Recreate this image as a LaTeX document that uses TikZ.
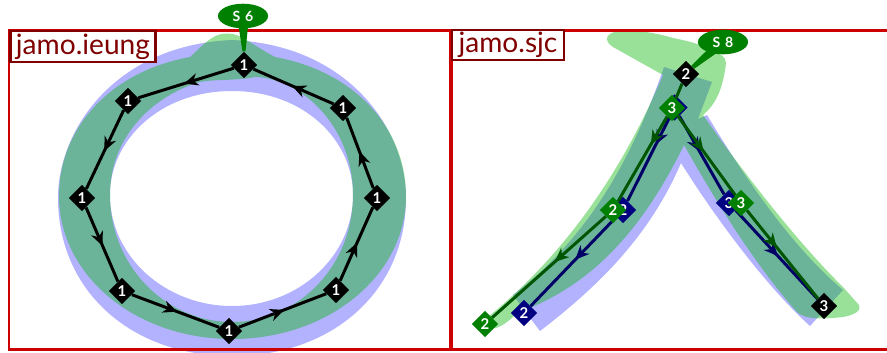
\documentclass[tikz,border=0pt]{standalone}
\usepackage{fontspec}
\setmainfont{Lato}
\usetikzlibrary{shapes.geometric,arrows.meta,decorations.markings,calc}
\tikzset{
  jamonode/.style={diamond,fill=#1,text=white,inner sep=0pt,minimum size=15pt,font=\fontsize{8.5}{9}\selectfont\bfseries},
  strokeno/.style={ellipse,fill=color4,text=white,inner sep=0pt,minimum width=28.5pt,minimum height=14pt,font=\fontsize{8}{9}\selectfont\bfseries},
  jamolabel/.style={draw=color5,line width=1.3pt,fill=white,text=color5,inner sep=0pt,font=\fontsize{16}{17}\selectfont},
  midline/.style 2 args={draw=#1,line width=1.7pt,postaction={decorate,decoration={markings,mark=at position #2 with {\arrow{Stealth[length=8pt,width=7pt,inset=2.5pt]}}}}},
  blueink/.style={fill=blue,fill opacity=0.3,even odd rule},
  greenink/.style={fill=color6,fill opacity=0.4,even odd rule},
}
\begin{document}
\begin{tikzpicture}[x=0.2mm,y=-0.2mm]
\definecolor{color3}{HTML}{CC0000}
\definecolor{color4}{HTML}{008000}
\definecolor{color5}{HTML}{800000}
\definecolor{color6}{HTML}{00B400}
\definecolor{color7}{HTML}{000080}
\definecolor{color8}{HTML}{005500}
\definecolor{color9}{HTML}{000066}
\clip (0,0) rectangle (887,352);
% ink of the ring
\fill[blueink] (58,198) .. controls (58,130) and (115,45) .. (232,40) .. controls (349,45) and (406,130) .. (406,198) .. controls (406,290) and (334,356) .. (232,356) .. controls (130,356) and (58,290) .. (58,198) -- cycle
  (110,195) .. controls (110,140) and (160,91) .. (232,91) .. controls (304,91) and (353,140) .. (353,195) .. controls (353,256) and (299,306) .. (232,306) .. controls (165,306) and (110,256) .. (110,195) -- cycle;
\fill[greenink] (190,57) .. controls (108,72) and (59,130) .. (59,196) .. controls (59,275) and (135,339) .. (232,339) .. controls (329,339) and (406,275) .. (406,196) .. controls (406,130) and (357,72) .. (275,57) .. controls (262,50) and (250,42) .. (243,38) .. controls (235,33) and (222,31) .. (212,38) .. controls (205,42) and (198,50) .. (190,57) -- cycle
  (110,195) .. controls (110,135) and (155,95) .. (200,82) .. controls (215,79) and (235,81) .. (255,77) .. controls (300,78) and (353,125) .. (353,195) .. controls (353,265) and (299,322) .. (232,322) .. controls (165,322) and (110,265) .. (110,195) -- cycle;
% ink of the second glyph
\fill[blueink] (664,67) -- (712,82) -- (698,119) -- (707,115) .. controls (745,178) and (790,245) .. (843,290) -- (810,326) .. controls (770,290) and (720,225) .. (681,163) .. controls (650,235) and (600,285) .. (540,331) -- (513,295) .. controls (585,240) and (630,165) .. (664,67) -- cycle;
\fill[greenink] (663,75) .. controls (625,165) and (570,250) .. (488,317) .. controls (484,322) and (488,330) .. (496,328) .. controls (505,325) and (512,318) .. (517,313) .. controls (580,290) and (635,245) .. (684,145) .. controls (715,200) and (755,265) .. (797,312) .. controls (805,320) and (825,319) .. (843,317) .. controls (855,315) and (862,310) .. (859,305) -- (843,287) .. controls (800,245) and (745,175) .. (703,115) .. controls (715,105) and (723,90) .. (726,63) .. controls (727,52) and (695,42) .. (673,38) .. controls (650,31) and (630,30) .. (620,31) .. controls (607,32) and (602,40) .. (613,47) -- cycle;
% frames
\draw[color3,line width=1.7pt] (9,30) rectangle (450,349);
\draw[color3,line width=1.7pt] (451.5,30) rectangle (900,349);
\node[jamolabel,minimum width=82.5pt,minimum height=17.5pt] (ieunglabel) at (83,46.5) {jamo.ieung};
\node[jamolabel,minimum width=63.5pt,minimum height=17pt] (sjclabel) at (508,45) {jamo.sjc};
% ring
\foreach \nm/\xx/\yy in {a/244/65,b/128/101,c/82/198,d/122/291,e/229/331,f/336/290,g/377/198,h/343/108}
  \node[jamonode=black] (\nm) at (\xx,\yy) {1};
\foreach \from/\to in {a/b,b/c,c/d,d/e,e/f,f/g,g/h,h/a}
  \draw[midline={black}{0.52}] (\from) -- (\to);
\coordinate (sixpos) at (243,16);
\fill[color4] ($(sixpos)+(-6,0)$) -- ($(sixpos)+(6,0)$) -- ($(a.north)+(1.5,0)$) -- ($(a.north)+(-1.5,0)$) -- cycle;
\node[strokeno] (sixlabel) at (sixpos) {S\,\,6};
% second glyph
\node[jamonode=black] (top) at (686,74) {2};
\node[jamonode=black] (tail) at (824,306) {3};
\node[jamonode=color7] (lb) at (623,210) {2};
\node[jamonode=color7] (lc) at (524,313) {2};
\node[jamonode=color7] (ra) at (674.5,107.5) {3};
\node[jamonode=color7] (rb) at (729,203) {3};
\draw[midline={color9}{0.33}] (ra) -- (lb);
\draw[midline={color9}{0.48}] (lb) -- (lc);
\draw[midline={color9}{0.45}] (ra) -- (rb);
\draw[midline={color9}{0.52}] (rb) -- (tail);
\node[jamonode=color4] (gm) at (672,108) {3};
\node[jamonode=color4] (gl) at (613,210) {2};
\node[jamonode=color4] (gc) at (485,324) {2};
\node[jamonode=color4] (gr) at (741,203) {3};
\draw[color8,line width=1.7pt] (top) -- (gm);
\draw[midline={color8}{0.33}] (gm) -- (gl);
\draw[midline={color8}{0.45}] (gl) -- (gc);
\draw[midline={color8}{0.45}] (gm) -- (gr);
\draw[midline={color8}{0.42}] (gr) -- (tail);
\coordinate (eightpos) at (723,42);
\fill[color4] ($(eightpos)+(3.5,4)$) -- ($(eightpos)+(-3.5,-4)$) -- ($(top.45)+(-1.5,-1.5)$) -- ($(top.45)+(1.5,1.5)$) -- cycle;
\node[strokeno] (eightlabel) at (eightpos) {S\,\,8};
\end{tikzpicture}
\end{document}
